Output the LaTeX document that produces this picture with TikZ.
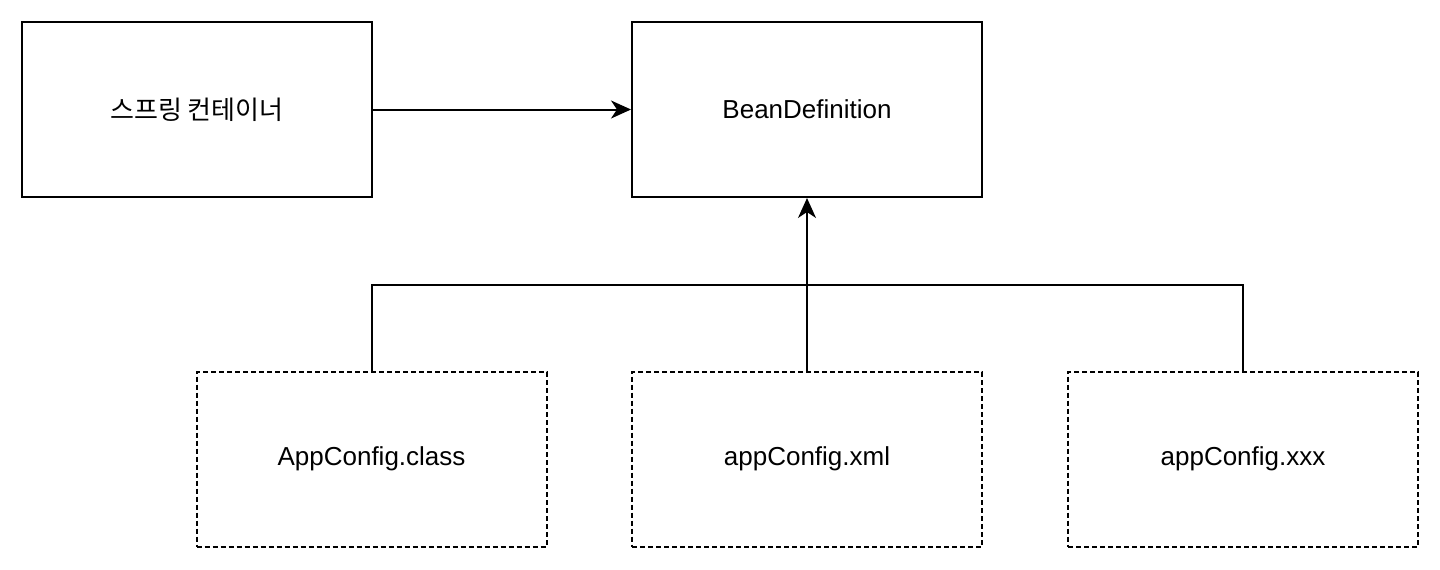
\documentclass[tikz,border=0pt]{standalone}
\usepackage{fontspec}
\setmainfont{Liberation Sans}
\newfontfamily\krfont{Noto Sans CJK KR}
\usetikzlibrary{positioning,arrows.meta}

\begin{document}
\begin{tikzpicture}[x=0.5pt, y=-0.5pt, font=\fontsize{13}{15}\selectfont,
  box/.style={draw, line width=1pt, minimum width=175pt, minimum height=87.5pt, inner sep=0pt},
  srcbox/.style={box, dash pattern=on 2.5pt off 1.5pt},
  conn/.style={line width=1pt},
  arr/.style={conn, -{Stealth[length=10pt, width=9pt, inset=3pt]}}]
\useasboundingbox[fill=white] (0,0) rectangle (1440,569);
% top row
\node[box] (container) at (197,109.5) {\krfont 스프링 컨테이너};
\node[box] (beandef) at (807,109.5) {BeanDefinition};
% config sources
\node[srcbox] (cfgclass) at (371.5,459) {AppConfig.class};
\node[srcbox] (cfgxml) at (807,459) {appConfig.xml};
\node[srcbox] (cfgxxx) at (1243,459) {appConfig.xxx};
\coordinate (join) at (807,285);
% connectors
\draw[arr] (container) -- (beandef);
\draw[arr] (cfgxml) -- (beandef);
\draw[conn] (cfgclass.north) |- (join) -| (cfgxxx.north);
\end{tikzpicture}
\end{document}
